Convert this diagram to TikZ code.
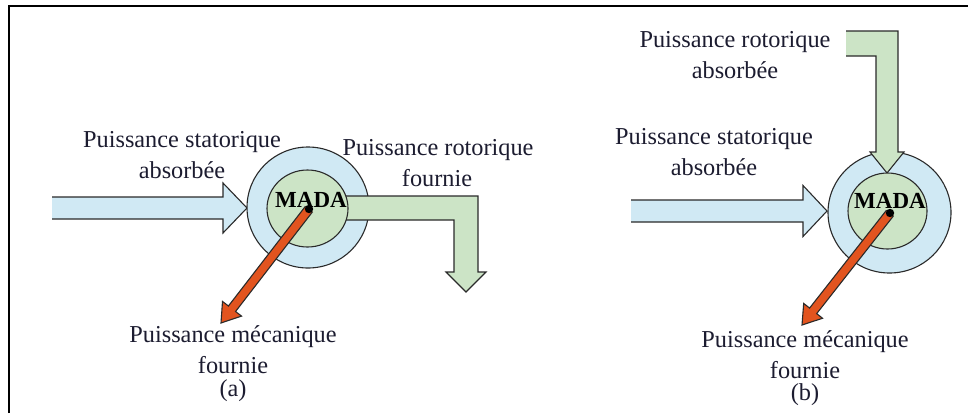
\documentclass[tikz,border=0pt]{standalone}
\usepackage{fontspec}
\newfontfamily\labelserif{LiberationSerif}[Extension=.ttf, UprightFont=*-Regular, BoldFont=*-Bold]
\usetikzlibrary{calc}

\definecolor{statorblue}{HTML}{D0E9F4}
\definecolor{rotorgreen}{HTML}{CCE4C6}
\definecolor{mechorange}{HTML}{E2541F}
\definecolor{inkdark}{HTML}{1C1C30}
\definecolor{edgegray}{HTML}{2A2A2A}

\tikzset{
  edge/.style={draw=edgegray, line width=1.1pt, line join=miter},
  powertext/.style={text=inkdark, inner sep=0pt, anchor=base,
    font=\labelserif\fontsize{24.3}{30}\selectfont},
  madatext/.style={text=black, inner sep=0pt, anchor=base,
    font=\labelserif\fontsize{23}{28}\selectfont\bfseries},
  frame/.style={draw=black, line width=2pt},
}

% Straight block arrow: name, start, tip, half shaft width, half head width,
% head length, fill colour. The outline is left open at the start end.
\newcommand{\blockarrow}[7]{%
  \coordinate (#1-s) at #2;
  \coordinate (#1-t) at #3;
  \coordinate (#1-b) at ($(#1-t)!#6!(#1-s)$);
  \fill[#7] ($(#1-s)!#4!90:(#1-t)$) -- ($(#1-b)!#4!-90:(#1-s)$)
    -- ($(#1-b)!#5!-90:(#1-s)$) -- (#1-t) -- ($(#1-b)!#5!90:(#1-s)$)
    -- ($(#1-b)!#4!90:(#1-s)$) -- ($(#1-s)!#4!-90:(#1-t)$) -- cycle;
  \draw[edge] ($(#1-s)!#4!90:(#1-t)$) -- ($(#1-b)!#4!-90:(#1-s)$)
    -- ($(#1-b)!#5!-90:(#1-s)$) -- (#1-t) -- ($(#1-b)!#5!90:(#1-s)$)
    -- ($(#1-b)!#4!90:(#1-s)$) -- ($(#1-s)!#4!-90:(#1-t)$);
}

\begin{document}
\begin{tikzpicture}[x=1pt, y=-1pt]
\useasboundingbox (0,0) rectangle (968,413);

% outer frame (left and top edges)
\draw[frame] (9,413) -- (9,6) -- (968,6);

% ---------------- (a) ----------------
% stator power in
\blockarrow{statA}{(52,208)}{(247,208)}{11pt}{25pt}{24pt}{statorblue}
% machine, outer ring
\filldraw[edge, fill=statorblue] (308,207.5) ellipse [x radius=61, y radius=60.5];
% rotor power out (L-shaped)
\fill[rotorgreen] (345,196) -- (478,196) -- (478,272) -- (486,272) -- (466,292)
  -- (446,272) -- (454,272) -- (454,220) -- (345,220) -- cycle;
\draw[edge] (345,196) -- (478,196) -- (478,272) -- (486,272) -- (466,292)
  -- (446,272) -- (454,272) -- (454,220) -- (345,220);
% machine, inner rotor
\filldraw[edge, fill=rotorgreen] (307.5,208.5) ellipse [x radius=40.5, y radius=38.5];
\node[madatext] (madaA) at (311,207) {MADA};
% mechanical power out
\blockarrow{mechA}{(309,209)}{(221,323)}{4.5pt}{12pt}{18pt}{mechorange}
\fill[black] (309,209) circle [radius=4.2];

\node[powertext] (aStat1) at (182,147) {Puissance statorique};
\node[powertext] (aStat2) at (182,178) {absorbée};
\node[powertext] (aRot1)  at (438,155) {Puissance rotorique};
\node[powertext] (aRot2)  at (437,186) {fournie};
\node[powertext] (aMec1)  at (233,342) {Puissance mécanique};
\node[powertext] (aMec2)  at (233,373) {fournie};
\node[powertext] (aCap)   at (233,396) {(a)};

% ---------------- (b) ----------------
% stator power in
\blockarrow{statB}{(631,211)}{(827,211)}{11pt}{25.5pt}{24pt}{statorblue}
% machine, outer ring
\filldraw[edge, fill=statorblue] (889.5,212.5) ellipse [x radius=61.5, y radius=60.5];
% rotor power in (L-shaped)
\fill[rotorgreen] (846,31) -- (898,31) -- (898,152) -- (904,152) -- (887,173)
  -- (870,152) -- (876,152) -- (876,56) -- (846,56) -- cycle;
\draw[edge] (846,31) -- (898,31) -- (898,152) -- (904,152) -- (887,173)
  -- (870,152) -- (876,152) -- (876,56) -- (846,56);
% machine, inner rotor
\filldraw[edge, fill=rotorgreen] (887.5,211) ellipse [x radius=39.5, y radius=38];
\node[madatext] (madaB) at (890,208) {MADA};
% mechanical power out
\blockarrow{mechB}{(890,213)}{(802,325)}{4.5pt}{12pt}{18pt}{mechorange}
\fill[black] (890,213) circle [radius=4.2];

\node[powertext] (bRot1)  at (735,47)  {Puissance rotorique};
\node[powertext] (bRot2)  at (735,78)  {absorbée};
\node[powertext] (bStat1) at (714,144) {Puissance statorique};
\node[powertext] (bStat2) at (714,175) {absorbée};
\node[powertext] (bMec1)  at (805,347) {Puissance mécanique};
\node[powertext] (bMec2)  at (805,378) {fournie};
\node[powertext] (bCap)   at (805,400) {(b)};
\end{tikzpicture}
\end{document}
